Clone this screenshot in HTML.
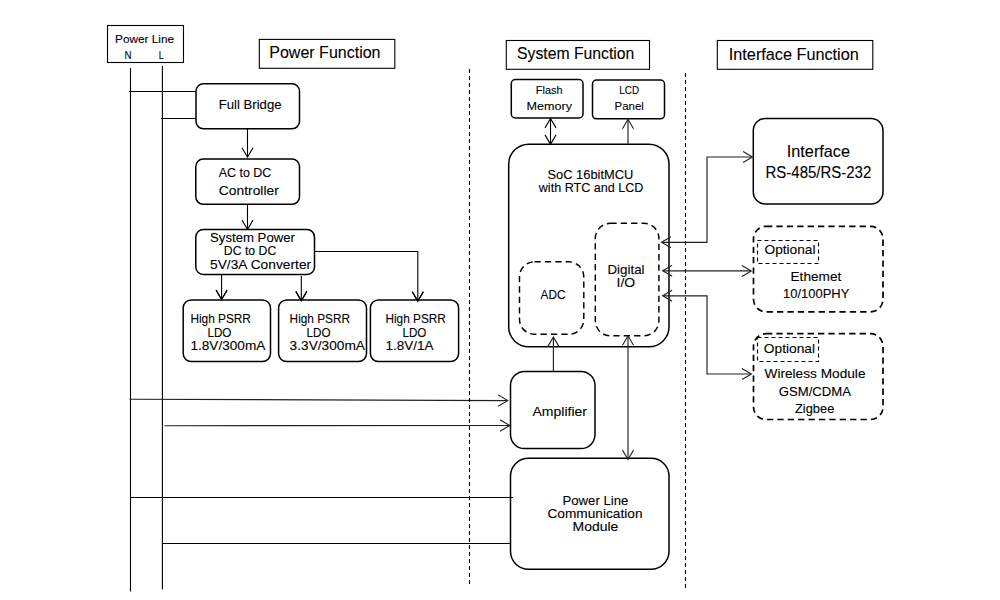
<!DOCTYPE html>
<html lang="en">
<head>
<meta charset="utf-8">
<title>Power Line Communication Block Diagram</title>
<style>
html,body{margin:0;padding:0;background:#fff;}
body{width:1000px;height:600px;overflow:hidden;}
svg{display:block;}
svg text{font-family:"Liberation Sans",sans-serif;stroke:#000;stroke-width:0.1px;}
</style>
</head>
<body>
<svg width="1000" height="600" viewBox="0 0 1000 600">
<rect x="0" y="0" width="1000" height="600" fill="#fff"/>
<polyline points="130.5,68 130.5,591.5" fill="none" stroke="#000" stroke-width="1.1"/>
<polyline points="162.4,66 162.4,589.5" fill="none" stroke="#000" stroke-width="1.1"/>
<polyline points="129,91.5 196,91.5" fill="none" stroke="#000" stroke-width="1.1"/>
<polyline points="161,118.5 196,118.5" fill="none" stroke="#000" stroke-width="1.1"/>
<polyline points="129.5,399.2 507.5,400.6" fill="none" stroke="#202020" stroke-width="1.1"/>
<polyline points="498.0,394.9 507.7,400.6 498.0,406.3" fill="none" stroke="#202020" stroke-width="1.1"/>
<polyline points="164.5,425.7 509.5,425.5" fill="none" stroke="#202020" stroke-width="1.1"/>
<polyline points="500.0,419.8 509.7,425.5 500.0,431.2" fill="none" stroke="#202020" stroke-width="1.1"/>
<polyline points="130.5,497.5 513,497.5" fill="none" stroke="#000" stroke-width="1.1"/>
<polyline points="162.4,543.5 511,543.5" fill="none" stroke="#000" stroke-width="1.1"/>
<polyline points="469.5,69 469.5,584" fill="none" stroke="#000" stroke-width="1.1" stroke-dasharray="4 3"/>
<polyline points="685.5,73 685.5,588" fill="none" stroke="#000" stroke-width="1.1" stroke-dasharray="4 3"/>
<rect x="107.5" y="25.5" width="76.0" height="37.0" rx="0" ry="0" fill="#fff" stroke="#000" stroke-width="1.1"/>
<text x="115.1" y="43.3" font-size="11.5" textLength="59.0" lengthAdjust="spacingAndGlyphs" fill="#000">Power Line</text>
<text x="124.5" y="59.3" font-size="11.5" textLength="7.0" lengthAdjust="spacingAndGlyphs" fill="#000">N</text>
<text x="158.8" y="59.3" font-size="11.5" textLength="5.0" lengthAdjust="spacingAndGlyphs" fill="#000">L</text>
<rect x="259.3" y="39.4" width="135.5" height="28.9" rx="0" ry="0" fill="#fff" stroke="#000" stroke-width="1.1"/>
<text x="269.3" y="58" font-size="16.4" textLength="111.2" lengthAdjust="spacingAndGlyphs" fill="#000">Power Function</text>
<rect x="506.3" y="40.5" width="143.2" height="28.8" rx="0" ry="0" fill="#fff" stroke="#000" stroke-width="1.1"/>
<text x="517" y="59.3" font-size="16.4" textLength="117.3" lengthAdjust="spacingAndGlyphs" fill="#000">System Function</text>
<rect x="717.3" y="40.5" width="155.5" height="28.8" rx="0" ry="0" fill="#fff" stroke="#000" stroke-width="1.1"/>
<text x="728.8" y="60" font-size="16.4" textLength="130.0" lengthAdjust="spacingAndGlyphs" fill="#000">Interface Function</text>
<rect x="196" y="83.8" width="103.5" height="45.0" rx="7.5" ry="7.5" fill="#fff" stroke="#000" stroke-width="1.5"/>
<text x="218.8" y="109.3" font-size="13" textLength="62.7" lengthAdjust="spacingAndGlyphs" fill="#000">Full Bridge</text>
<polyline points="247.5,128.8 247.5,157" fill="none" stroke="#000" stroke-width="1.1"/>
<polyline points="242.0,147.8 247.5,157.2 253.0,147.8" fill="none" stroke="#000" stroke-width="1.1"/>
<rect x="195.8" y="159" width="103.7" height="45.3" rx="7.5" ry="7.5" fill="#fff" stroke="#000" stroke-width="1.5"/>
<text x="218.8" y="177" font-size="13" textLength="52.5" lengthAdjust="spacingAndGlyphs" fill="#000">AC to DC</text>
<text x="218.8" y="195" font-size="13" textLength="60.0" lengthAdjust="spacingAndGlyphs" fill="#000">Controller</text>
<polyline points="247.5,204.3 247.5,229" fill="none" stroke="#000" stroke-width="1.1"/>
<polyline points="242.0,220.1 247.5,229.5 253.0,220.1" fill="none" stroke="#000" stroke-width="1.1"/>
<rect x="195.8" y="229.5" width="118.7" height="45.0" rx="7.5" ry="7.5" fill="#fff" stroke="#000" stroke-width="1.5"/>
<text x="210" y="242" font-size="13" textLength="85" lengthAdjust="spacingAndGlyphs" fill="#000">System Power</text>
<text x="223.8" y="255" font-size="13" textLength="52.5" lengthAdjust="spacingAndGlyphs" fill="#000">DC to DC</text>
<text x="210" y="268.8" font-size="13" textLength="101.2" lengthAdjust="spacingAndGlyphs" fill="#000">5V/3A Converter</text>
<polyline points="221.6,274.5 221.6,299" fill="none" stroke="#000" stroke-width="1.1"/>
<polyline points="216.1,290.1 221.6,299.5 227.1,290.1" fill="none" stroke="#000" stroke-width="1.1"/>
<polyline points="301.3,276 301.3,300" fill="none" stroke="#000" stroke-width="1.1"/>
<polyline points="295.8,291.4 301.3,300.8 306.8,291.4" fill="none" stroke="#000" stroke-width="1.1"/>
<polyline points="314.5,251.5 417.8,251.5 417.8,300" fill="none" stroke="#000" stroke-width="1.1"/>
<polyline points="412.3,291.6 417.8,301 423.3,291.6" fill="none" stroke="#000" stroke-width="1.1"/>
<rect x="183.2" y="300" width="87.3" height="61.6" rx="8" ry="8" fill="#fff" stroke="#000" stroke-width="1.5"/>
<rect x="278.6" y="300" width="87.9" height="61.6" rx="8" ry="8" fill="#fff" stroke="#000" stroke-width="1.5"/>
<rect x="370.4" y="300" width="88.2" height="61.6" rx="8" ry="8" fill="#fff" stroke="#000" stroke-width="1.5"/>
<polyline points="216.1,290.1 221.6,299.5 227.1,290.1" fill="none" stroke="#000" stroke-width="1.1"/>
<polyline points="295.8,291.4 301.3,300.8 306.8,291.4" fill="none" stroke="#000" stroke-width="1.1"/>
<polyline points="412.3,291.9 417.8,301.3 423.3,291.9" fill="none" stroke="#000" stroke-width="1.1"/>
<text x="190.4" y="323" font-size="13" textLength="60.5" lengthAdjust="spacingAndGlyphs" fill="#000">High PSRR</text>
<text x="207.4" y="336.8" font-size="13" textLength="24.0" lengthAdjust="spacingAndGlyphs" fill="#000">LDO</text>
<text x="190.4" y="350" font-size="13" textLength="75.0" lengthAdjust="spacingAndGlyphs" fill="#000">1.8V/300mA</text>
<text x="289.6" y="323" font-size="13" textLength="60.5" lengthAdjust="spacingAndGlyphs" fill="#000">High PSRR</text>
<text x="306.6" y="336.8" font-size="13" textLength="24.0" lengthAdjust="spacingAndGlyphs" fill="#000">LDO</text>
<text x="289.6" y="350" font-size="13" textLength="75.4" lengthAdjust="spacingAndGlyphs" fill="#000">3.3V/300mA</text>
<text x="385.4" y="323" font-size="13" textLength="60.5" lengthAdjust="spacingAndGlyphs" fill="#000">High PSRR</text>
<text x="402.4" y="336.8" font-size="13" textLength="24.0" lengthAdjust="spacingAndGlyphs" fill="#000">LDO</text>
<text x="385.4" y="350" font-size="13" textLength="48.0" lengthAdjust="spacingAndGlyphs" fill="#000">1.8V/1A</text>
<rect x="511.3" y="79.5" width="71.7" height="38.5" rx="4" ry="4" fill="#fff" stroke="#000" stroke-width="1.5"/>
<text x="535.8" y="94.3" font-size="11.6" textLength="26.7" lengthAdjust="spacingAndGlyphs" fill="#000">Flash</text>
<text x="526.5" y="110" font-size="11.6" textLength="45.5" lengthAdjust="spacingAndGlyphs" fill="#000">Memory</text>
<rect x="592.5" y="80" width="72.0" height="38.8" rx="4" ry="4" fill="#fff" stroke="#000" stroke-width="1.5"/>
<text x="619.3" y="94.3" font-size="11.6" textLength="19.7" lengthAdjust="spacingAndGlyphs" fill="#000">LCD</text>
<text x="614.5" y="110" font-size="11.6" textLength="29.3" lengthAdjust="spacingAndGlyphs" fill="#000">Panel</text>
<rect x="508.7" y="144.2" width="160.3" height="202.6" rx="20" ry="20" fill="#fff" stroke="#000" stroke-width="1.5"/>
<polyline points="550.5,118.5 550.5,144" fill="none" stroke="#000" stroke-width="1.1"/>
<polyline points="545.0,127.9 550.5,118.5 556.0,127.9" fill="none" stroke="#000" stroke-width="1.1"/>
<polyline points="545.0,134.9 550.5,144.3 556.0,134.9" fill="none" stroke="#000" stroke-width="1.1"/>
<polyline points="628,119.5 628,144" fill="none" stroke="#202020" stroke-width="1.15"/>
<polyline points="622.5,128.7 628,119.3 633.5,128.7" fill="none" stroke="#202020" stroke-width="1.1"/>
<text x="547.5" y="178.8" font-size="13" textLength="85.8" lengthAdjust="spacingAndGlyphs" fill="#000">SoC 16bitMCU</text>
<text x="538.8" y="191.8" font-size="13" textLength="104.5" lengthAdjust="spacingAndGlyphs" fill="#000">with RTC and LCD</text>
<rect x="595.3" y="223.3" width="63.6" height="112.5" rx="15" ry="15" fill="#fff" stroke="#000" stroke-width="1.45" stroke-dasharray="6.3 4.1"/>
<rect x="519.5" y="261.8" width="64.3" height="72.5" rx="15" ry="15" fill="#fff" stroke="#000" stroke-width="1.45" stroke-dasharray="6.3 4.1"/>
<text x="607.5" y="273.8" font-size="13" textLength="37.0" lengthAdjust="spacingAndGlyphs" fill="#000">Digital</text>
<text x="616.6" y="286.8" font-size="13" textLength="18.6" lengthAdjust="spacingAndGlyphs" fill="#000">I/O</text>
<text x="540.5" y="298.8" font-size="13" textLength="25.0" lengthAdjust="spacingAndGlyphs" fill="#000">ADC</text>
<rect x="510.5" y="371.4" width="84.5" height="77.2" rx="14" ry="14" fill="#fff" stroke="#000" stroke-width="1.5"/>
<text x="532.5" y="416.3" font-size="13" textLength="54.5" lengthAdjust="spacingAndGlyphs" fill="#000">Amplifier</text>
<polyline points="553.4,371.3 553.4,337.5" fill="none" stroke="#202020" stroke-width="1.15"/>
<polyline points="547.9,346.4 553.4,337 558.9,346.4" fill="none" stroke="#202020" stroke-width="1.1"/>
<rect x="510.5" y="458.3" width="158.5" height="111.0" rx="18" ry="18" fill="#fff" stroke="#000" stroke-width="1.5"/>
<text x="562.5" y="505" font-size="13" textLength="65.8" lengthAdjust="spacingAndGlyphs" fill="#000">Power Line</text>
<text x="547.5" y="518" font-size="13" textLength="95.0" lengthAdjust="spacingAndGlyphs" fill="#000">Communication</text>
<text x="572.5" y="530.5" font-size="13" textLength="45.8" lengthAdjust="spacingAndGlyphs" fill="#000">Module</text>
<polyline points="628,336.5 628,459" fill="none" stroke="#202020" stroke-width="1.15"/>
<polyline points="622.5,345.2 628,335.8 633.5,345.2" fill="none" stroke="#202020" stroke-width="1.1"/>
<polyline points="622.5,450.1 628,459.5 633.5,450.1" fill="none" stroke="#202020" stroke-width="1.1"/>
<polyline points="130.5,497.5 513,497.5" fill="none" stroke="#000" stroke-width="1.1"/>
<rect x="753.3" y="118.5" width="129.7" height="85.5" rx="12" ry="12" fill="#fff" stroke="#000" stroke-width="1.5"/>
<text x="786.8" y="157.2" font-size="16.5" textLength="63.2" lengthAdjust="spacingAndGlyphs" fill="#000">Interface</text>
<text x="765.5" y="178" font-size="16.3" textLength="105.8" lengthAdjust="spacingAndGlyphs" fill="#000">RS-485/RS-232</text>
<rect x="753.5" y="226.3" width="129.5" height="85.5" rx="12.5" ry="12.5" fill="#fff" stroke="#000" stroke-width="1.7" stroke-dasharray="6.3 4.1"/>
<rect x="757.5" y="240.5" width="61.0" height="23.0" rx="0" ry="0" fill="#fff" stroke="#000" stroke-width="1.1" stroke-dasharray="4 3"/>
<text x="764.5" y="253.6" font-size="13" textLength="51.0" lengthAdjust="spacingAndGlyphs" fill="#000">Optional</text>
<text x="790.5" y="280.8" font-size="13" textLength="50.8" lengthAdjust="spacingAndGlyphs" fill="#000">Ethemet</text>
<text x="783" y="297.5" font-size="13" textLength="66.3" lengthAdjust="spacingAndGlyphs" fill="#000">10/100PHY</text>
<rect x="753.5" y="333.7" width="129.5" height="85.8" rx="12.5" ry="12.5" fill="#fff" stroke="#000" stroke-width="1.7" stroke-dasharray="6.3 4.1"/>
<rect x="757.5" y="337.5" width="61.0" height="24.0" rx="0" ry="0" fill="#fff" stroke="#000" stroke-width="1.1" stroke-dasharray="4 3"/>
<text x="763.8" y="353" font-size="13" textLength="51.2" lengthAdjust="spacingAndGlyphs" fill="#000">Optional</text>
<text x="764.5" y="377.5" font-size="13" textLength="101.0" lengthAdjust="spacingAndGlyphs" fill="#000">Wireless Module</text>
<text x="778.7" y="395.8" font-size="13" textLength="72.3" lengthAdjust="spacingAndGlyphs" fill="#000">GSM/CDMA</text>
<text x="795" y="412.5" font-size="13" textLength="39.3" lengthAdjust="spacingAndGlyphs" fill="#000">Zigbee</text>
<polyline points="662,242.3 707,242.3 707,157 752,157" fill="none" stroke="#202020" stroke-width="1.15"/>
<polyline points="670.9,236.8 661.5,242.3 670.9,247.8" fill="none" stroke="#202020" stroke-width="1.1"/>
<polyline points="743.1,151.5 752.5,157 743.1,162.5" fill="none" stroke="#202020" stroke-width="1.1"/>
<polyline points="663,270.8 751,270.8" fill="none" stroke="#202020" stroke-width="1.15"/>
<polyline points="672.1,265.3 662.7,270.8 672.1,276.3" fill="none" stroke="#202020" stroke-width="1.1"/>
<polyline points="741.9,265.5 751.3,271 741.9,276.5" fill="none" stroke="#202020" stroke-width="1.1"/>
<polyline points="663,295.8 707,295.8 707,374 751,374" fill="none" stroke="#202020" stroke-width="1.15"/>
<polyline points="672.1,290.3 662.7,295.8 672.1,301.3" fill="none" stroke="#202020" stroke-width="1.1"/>
<polyline points="742.0,368.5 751.4,374 742.0,379.5" fill="none" stroke="#202020" stroke-width="1.1"/>
</svg>
</body>
</html>
